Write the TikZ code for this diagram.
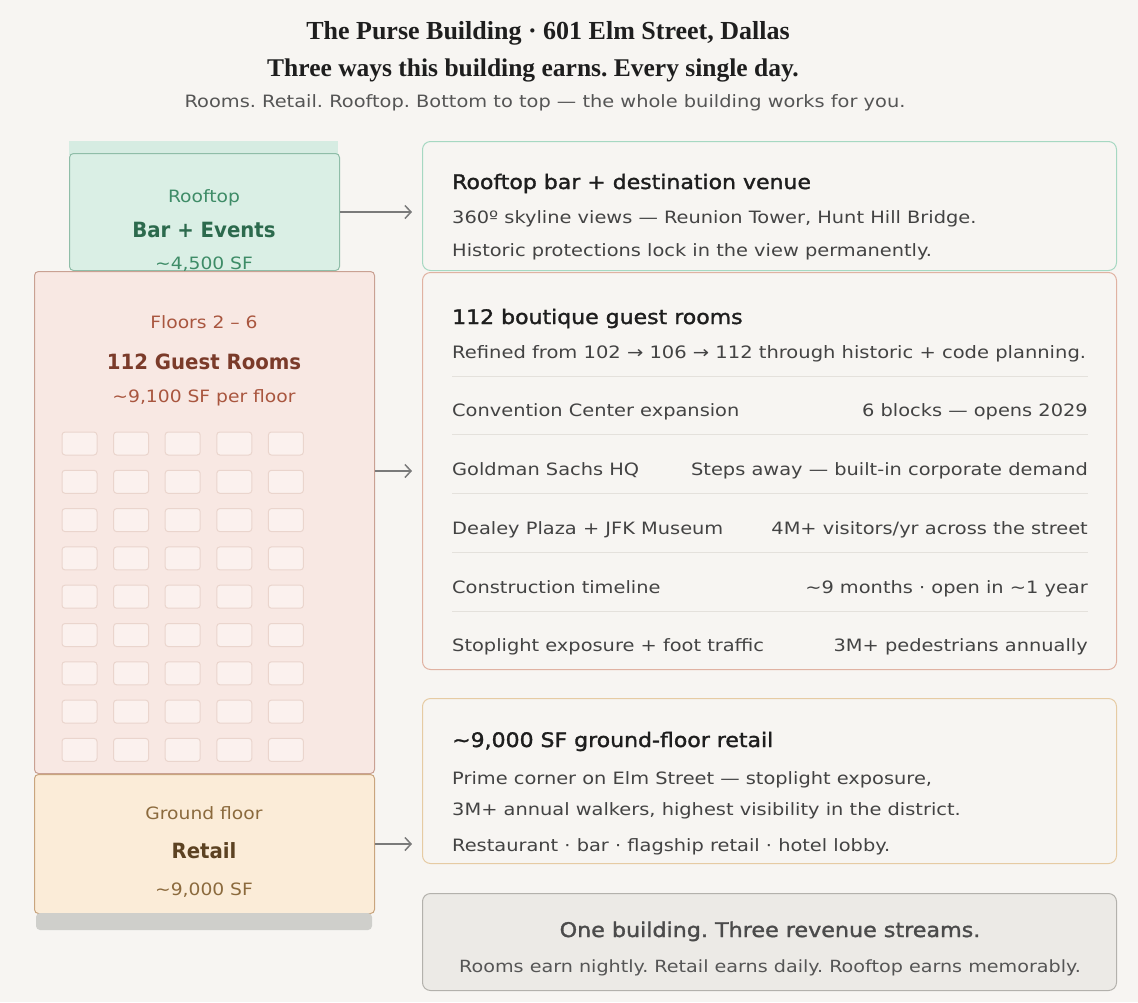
\documentclass[tikz,border=0pt]{standalone}
\usepackage{fontspec}
\setmainfont[FakeStretch=1.14]{DejaVu Sans}
\newfontfamily\headfont{Liberation Serif}
\newfontfamily\cardfont[FakeStretch=1.1, FakeBold=1.6]{DejaVu Sans}
\newfontfamily\labelfont[FakeStretch=1.1]{DejaVu Sans}
\newfontfamily\labelbold[FakeStretch=0.94]{DejaVu Sans Bold}
\usetikzlibrary{arrows.meta}

\definecolor{bg}{HTML}{F7F5F2}
\definecolor{ink}{HTML}{1E1E1E}
\definecolor{body}{HTML}{434343}
\definecolor{muted}{HTML}{555555}
\definecolor{grnFill}{HTML}{DAEFE5}
\definecolor{grnCap}{HTML}{D6ECE2}
\definecolor{grnLine}{HTML}{8FBDA8}
\definecolor{grnText}{HTML}{3E8C67}
\definecolor{grnDark}{HTML}{2C6A4D}
\definecolor{pnkFill}{HTML}{F8E8E3}
\definecolor{pnkLine}{HTML}{C9A193}
\definecolor{pnkText}{HTML}{A9563F}
\definecolor{pnkDark}{HTML}{7B3B2A}
\definecolor{cellLine}{HTML}{EAD5CD}
\definecolor{pchFill}{HTML}{FBECD8}
\definecolor{pchLine}{HTML}{C9A57E}
\definecolor{pchText}{HTML}{8B6A3D}
\definecolor{pchDark}{HTML}{5C4222}
\definecolor{baseGray}{HTML}{CFCFCB}
\definecolor{cardGrn}{HTML}{A6D8C2}
\definecolor{cardPnk}{HTML}{E0B2A2}
\definecolor{cardPch}{HTML}{E6CBA3}
\definecolor{cardGry}{HTML}{B3B1AC}
\definecolor{sumFill}{HTML}{ECEAE6}
\definecolor{rule}{HTML}{E4E1DC}
\definecolor{arrowGray}{HTML}{7A7A7A}

\tikzset{
  block/.style={draw, rounded corners=4pt, line width=1pt, inner sep=0pt, anchor=north west},
  card/.style={draw, rounded corners=8pt, line width=1pt, inner sep=0pt, anchor=north west, fill=bg},
  cell/.style={draw=cellLine, fill=pnkFill!60!white, line width=1pt, rounded corners=3pt},
  link/.style={draw=arrowGray, line width=1.5pt, -{Straight Barb[length=6pt,width=13pt,line width=1.5pt]}, shorten >=10pt},
  txt/.style={inner sep=0pt, anchor=base},
  ltxt/.style={inner sep=0pt, anchor=base west},
  rtxt/.style={inner sep=0pt, anchor=base east},
}

\newcommand{\fs}[1]{\fontsize{#1}{#1}\selectfont}
\frenchspacing

\begin{document}
\begin{tikzpicture}[x=1pt,y=-1pt]
\useasboundingbox (0,0) rectangle (1138,1002);
\fill[bg] (0,0) rectangle (1138,1002);

% ---------- header ----------
\node[txt] (title) at (548,39) {\headfont\bfseries\fs{26}\color{ink}The Purse Building · 601 Elm Street, Dallas};
\node[txt] (tagline) at (533,76) {\headfont\bfseries\fs{25.5}\color{ink}Three ways this building earns. Every single day.};
\node[txt] (sub) at (545,107) {\fs{17}\color{muted}Rooms. Retail. Rooftop. Bottom to top — the whole building works for you.};

% ---------- building section (left) ----------
\fill[grnCap] (69,141) rectangle (338,155);
\node[block, fill=grnFill, draw=grnLine, minimum width=270pt, minimum height=117pt] (roofL) at (69,153) {};
\node[block, fill=pnkFill, draw=pnkLine, minimum width=340pt, minimum height=502pt] (floorsL) at (34,271) {};
\node[block, fill=pchFill, draw=pchLine, minimum width=340pt, minimum height=139pt] (retailL) at (34,774) {};
\fill[baseGray, rounded corners=4pt] (36,913) rectangle (372,930);

\node[txt] (roofA) at (204,202) {\labelfont\fs{17}\color{grnText}Rooftop};
\node[txt] (roofB) at (204,237) {\labelbold\fs{21}\color{grnDark}Bar + Events};
\node[txt] (roofC) at (204,269) {\labelfont\fs{17}\color{grnText}\textasciitilde4,500 SF};

\node[txt] (floorA) at (204,328) {\labelfont\fs{17}\color{pnkText}Floors 2 – 6};
\node[txt] (floorB) at (204,369) {\labelbold\fs{21}\color{pnkDark}112 Guest Rooms};
\node[txt] (floorC) at (204,402) {\labelfont\fs{17}\color{pnkText}\textasciitilde9,100 SF per floor};

% room grid, 5 x 9
\foreach \r in {0,...,8}
  \foreach \c in {0,...,4}
    \draw[cell] ({62+51.6*\c},{432+38.3*\r}) rectangle ++(35,23);

\node[txt] (retA) at (204,819) {\labelfont\fs{17}\color{pchText}Ground floor};
\node[txt] (retB) at (204,858) {\labelbold\fs{21}\color{pchDark}Retail};
\node[txt] (retC) at (204,895) {\labelfont\fs{17}\color{pchText}\textasciitilde9,000 SF};

% ---------- detail cards (right) ----------
\node[card, draw=cardGrn, minimum width=694pt, minimum height=129pt] (roofR) at (422,141) {};
\node[card, draw=cardPnk, minimum width=694pt, minimum height=397pt] (roomsR) at (422,272) {};
\node[card, draw=cardPch, minimum width=694pt, minimum height=165pt] (retailR) at (422,698) {};
\node[card, draw=cardGry, fill=sumFill, minimum width=694pt, minimum height=97pt] (sumR) at (422,893) {};

% rooftop card
\node[ltxt] (rt1) at (452,189) {\cardfont\fs{20}\color{ink}Rooftop bar + destination venue};
\node[ltxt] (rt2) at (452,223) {\fs{17}\color{body}360º skyline views — Reunion Tower, Hunt Hill Bridge.};
\node[ltxt] (rt3) at (452,256) {\fs{17}\color{body}Historic protections lock in the view permanently.};

% rooms card
\node[ltxt] (rm1) at (452,324) {\cardfont\fs{20}\color{ink}112 boutique guest rooms};
\node[ltxt] (rm2) at (452,358) {\fs{17.1}\color{body}Refined from 102 → 106 → 112 through historic + code planning.};
\foreach \y in {376,434,493,552,611}
  \draw[rule, line width=1pt] (452,\y) -- (1088,\y);
\node[ltxt] (k1) at (452,416) {\fs{17}\color{body}Convention Center expansion};
\node[rtxt] (v1) at (1088,416) {\fs{17}\color{body}6 blocks — opens 2029};
\node[ltxt] (k2) at (452,475) {\fs{17}\color{body}Goldman Sachs HQ};
\node[rtxt] (v2) at (1088,475) {\fs{17}\color{body}Steps away — built-in corporate demand};
\node[ltxt] (k3) at (452,534) {\fs{17}\color{body}Dealey Plaza + JFK Museum};
\node[rtxt] (v3) at (1088,534) {\fs{17}\color{body}4M+ visitors/yr across the street};
\node[ltxt] (k4) at (452,593) {\fs{17}\color{body}Construction timeline};
\node[rtxt] (v4) at (1088,593) {\fs{17}\color{body}\textasciitilde9 months · open in \textasciitilde1 year};
\node[ltxt] (k5) at (452,651) {\fs{17}\color{body}Stoplight exposure + foot traffic};
\node[rtxt] (v5) at (1088,651) {\fs{17}\color{body}3M+ pedestrians annually};

% retail card
\node[ltxt] (rr1) at (452,747) {\cardfont\fs{20}\color{ink}\textasciitilde9,000 SF ground-floor retail};
\node[ltxt] (rr2) at (452,784) {\fs{17}\color{body}Prime corner on Elm Street — stoplight exposure,};
\node[ltxt] (rr3) at (452,815) {\fs{17}\color{body}3M+ annual walkers, highest visibility in the district.};
\node[ltxt] (rr4) at (452,851) {\fs{17}\color{body}Restaurant · bar · flagship retail · hotel lobby.};

% summary card
\node[txt] (s1) at (770,937) {\cardfont\fs{20.2}\color{ink!80}One building. Three revenue streams.};
\node[txt] (s2) at (770,972) {\fs{16.8}\color{muted}Rooms earn nightly. Retail earns daily. Rooftop earns memorably.};

% ---------- connectors ----------
\draw[link] (roofL.east) -- (roofL.east -| roofR.west);
\draw[link] (floorsL.east |- roomsR.west) -- (roomsR.west);
\draw[link] (retailL.east) -- (retailL.east -| retailR.west);
\end{tikzpicture}
\end{document}
